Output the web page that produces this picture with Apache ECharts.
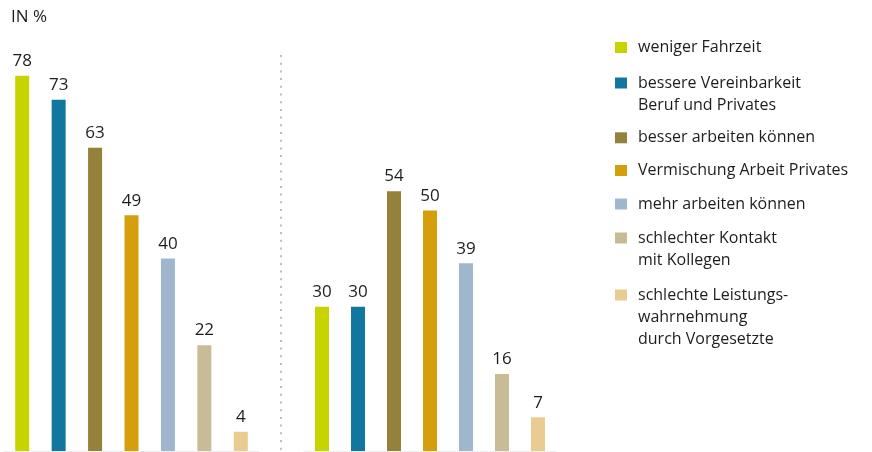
<!DOCTYPE html>
<html>
<head>
<meta charset="utf-8">
<script src="https://cdn.jsdelivr.net/npm/echarts@6/dist/echarts.min.js"></script>
<style>
html,body{margin:0;padding:0;background:#fff;}
#c{width:872px;height:452px;}
</style>
</head>
<body>
<div id="c"></div>
<script>
const categories = [
  'weniger Fahrzeit',
  'bessere Vereinbarkeit\nBeruf und Privates',
  'besser arbeiten können',
  'Vermischung Arbeit Privates',
  'mehr arbeiten können',
  'schlechter Kontakt\nmit Kollegen',
  'schlechte Leistungs-\nwahrnehmung\ndurch Vorgesetzte'
];
const group1Values = [78, 73, 63, 49, 40, 22, 4];
const group2Values = [30, 30, 54, 50, 39, 16, 7];
const colors = ['#c8d400', '#12779f', '#94813a', '#d59e0b', '#9fb6cd', '#c8bb95', '#e9cd90'];
const unitLabel = 'IN %';

const FONT = '"Open Sans", sans-serif';
const TEXT = '#1d1d1b';
const groups = [group1Values, group2Values];

const series = [];
groups.forEach((vals, g) => {
  categories.forEach((name, i) => {
    series.push({
      type: 'bar',
      name: name,
      xAxisIndex: g,
      yAxisIndex: g,
      stack: 'g' + g,
      barWidth: 14,
      itemStyle: { color: colors[i] },
      label: {
        show: true,
        position: 'top',
        distance: 6,
        color: TEXT,
        fontFamily: FONT,
        fontSize: 17
      },
      data: vals.map((v, j) => (j === i ? v : '-'))
    });
  });
});

// legend: one component per item so the icon sits next to the first line
const iconCenters = [47.5, 83, 137.8, 170.5, 204, 238, 295];
const LH = 22;
const legends = categories.map((name, i) => {
  const n = name.split('\n').length;
  return {
    show: true,
    data: [name],
    orient: 'vertical',
    left: 615,
    top: iconCenters[i] - (LH / 2) * (2 * n - 1),
    padding: 0,
    itemWidth: 12,
    itemHeight: 11,
    icon: 'rect',
    selectedMode: false,
    formatter: nm => '\n'.repeat(n - 1) + nm,
    textStyle: {
      color: TEXT,
      fontFamily: FONT,
      fontSize: 16,
      lineHeight: LH,
      padding: [0, 0, 0, 6]
    }
  };
});

const option = {
  animation: false,
  color: colors,
  textStyle: { fontFamily: FONT },
  title: {
    text: unitLabel,
    left: 6,
    top: 4,
    textStyle: { fontFamily: FONT, fontSize: 17, fontWeight: 'normal', color: TEXT }
  },
  legend: legends,
  grid: [
    { left: 4, width: 255, top: 66, bottom: 1 },
    { left: 304, width: 252, top: 66, bottom: 1 }
  ],
  xAxis: [0, 1].map(g => ({
    type: 'category',
    gridIndex: g,
    data: categories,
    axisLine: { show: true, lineStyle: { color: '#eeeeee', width: 1 } },
    axisTick: { show: false },
    axisLabel: { show: false },
    splitLine: { show: false }
  })),
  yAxis: [0, 1].map(g => ({
    type: 'value',
    gridIndex: g,
    min: 0,
    max: 80,
    show: false
  })),
  graphic: [{
    type: 'line',
    shape: { x1: 281, y1: 55, x2: 281, y2: 451 },
    style: { stroke: '#bdbdbd', lineWidth: 2, lineDash: [2, 5.7] },
    silent: true
  }],
  series: series
};

const chart = echarts.init(document.getElementById('c'), null, { renderer: 'canvas' });
chart.setOption(option);
</script>
</body>
</html>
